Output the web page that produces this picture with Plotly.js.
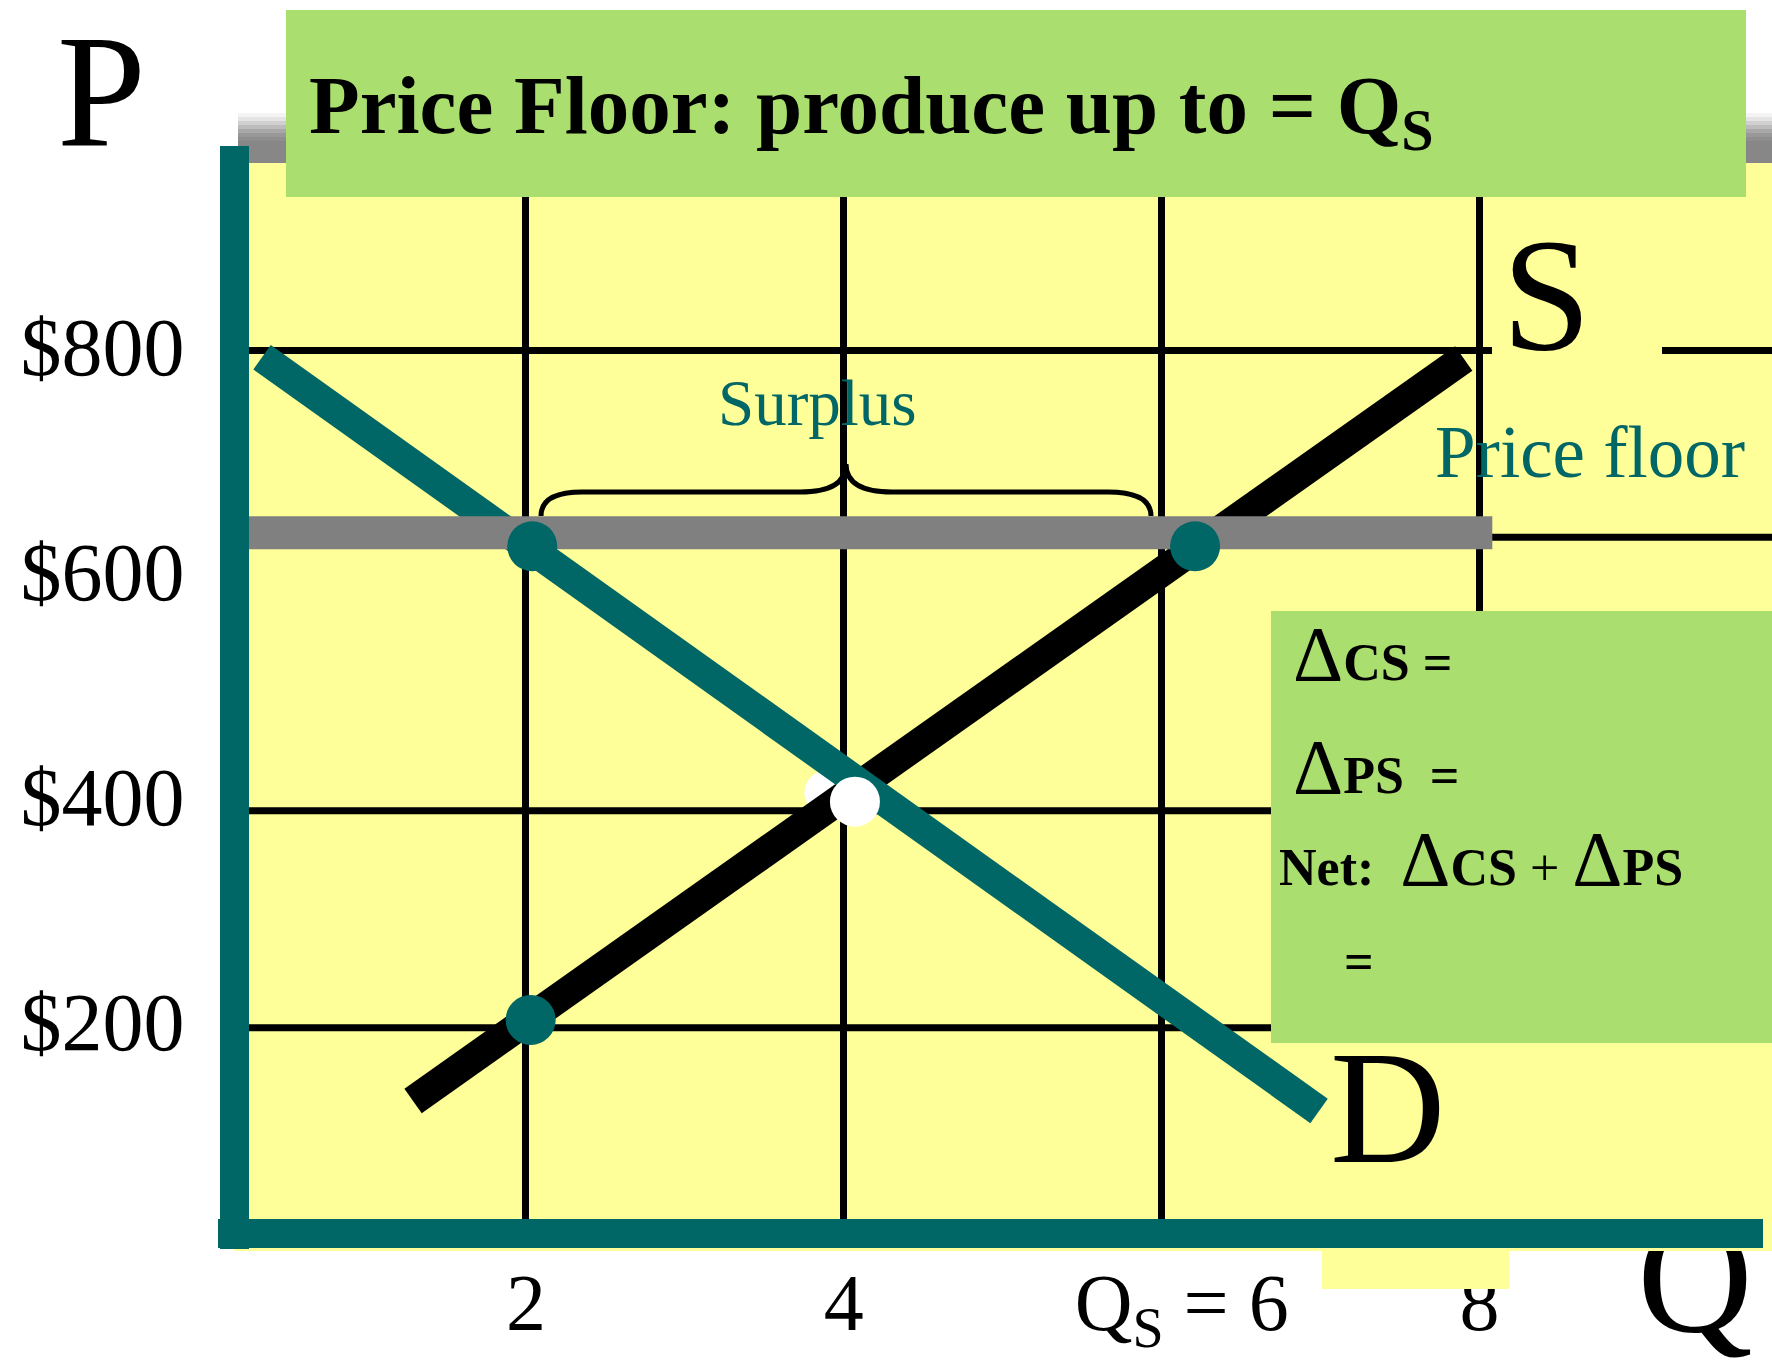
<!DOCTYPE html>
<html>
<head>
<meta charset="utf-8">
<script src="https://cdn.plot.ly/plotly-3.0.1.min.js"></script>
<style>
  html, body { margin: 0; padding: 0; background: #ffffff; }
  #chart { width: 1772px; height: 1362px; }
</style>
</head>
<body>
<div id="chart"></div>
<script>
// ---------------- data ----------------
const qTicks = [2, 4, 6, 8];
const qTickLabels = ['2', '4', '\u00a0\u00a0Q<sub>S</sub> = 6', '8'];
const pTicks = [200, 400, 600, 800];
const pTickLabels = ['$200', '$400', '$600', '$800'];
const gridPrices = [796, 630, 387, 194];      // horizontal guide lines as drawn

const demandQ = [0.34, 6.99];
const demandP = [790, 120];
const supplyQ = [1.29, 7.90];
const supplyP = [129, 789];
const floorQ = [0.23, 8.08];
const floorP = [634, 634];
const markedQ = [2.04, 6.21, 2.03];
const markedP = [622, 622, 201];
const equilibriumQ = [4.07];
const equilibriumP = [395];
const hiddenDotQ = [3.89];
const hiddenDotP = [403];
const qAxisLabelAt = [9.355];
const qAxisLabel = ['Q'];

// ---------------- styling ----------------
const SERIF = 'Liberation Serif, Times New Roman, serif';
const TEAL = '#006666';
const YELLOW = '#FFFF99';
const GREEN = '#AADE6E';
const GRAY = '#808080';

const W = 1772, H = 1362;
const L = 234, R = 1772, T = 162, B = 1249;       // plot area in pixels
const xp = px => (px - L) / (R - L);
const yp = py => (B - py) / (B - T);

function rectPx(x0, y0, x1, y1, color, layer) {
  return { type: 'rect', xref: 'paper', yref: 'paper',
           x0: xp(x0), x1: xp(x1), y0: yp(y1), y1: yp(y0),
           fillcolor: color, line: { width: 0 }, layer: layer || 'above' };
}
function hGrid(p, x0, x1) {
  return { type: 'line', xref: 'paper', yref: 'y', x0: xp(x0), x1: xp(x1), y0: p, y1: p,
           line: { color: '#000000', width: 7 }, layer: 'below' };
}
const pt = (x, y) => xp(x).toFixed(5) + ',' + yp(y).toFixed(5);

const shapes = [];
// yellow panel
shapes.push(rectPx(234, 162, 1772, 1251, YELLOW, 'below'));
// horizontal guide lines
shapes.push(hGrid(gridPrices[0], 234, 1492));
shapes.push(hGrid(gridPrices[0], 1662, 1772));
shapes.push(hGrid(gridPrices[1], 234, 1772));
shapes.push(hGrid(gridPrices[2], 234, 1271));
shapes.push(hGrid(gridPrices[3], 234, 1271));

// top shadow of the panel (gradient)
const shadow = [[113, '#f4f4f4'], [117, '#e4e4e4'], [121, '#d0d0d0'], [125, '#bcbcbc'],
                [129, '#a8a8a8'], [133, '#989898'], [137, '#8e8e8e'], [141, '#878787']];
for (let i = 0; i < shadow.length; i++) {
  const y0 = shadow[i][0];
  const y1 = i < shadow.length - 1 ? shadow[i + 1][0] : 163;
  shapes.push(rectPx(238, y0, 1772, y1, shadow[i][1]));
}
// yellow patches
shapes.push(rectPx(1462, 1043, 1498, 1219, YELLOW));
shapes.push(rectPx(1322, 1248, 1509, 1289, YELLOW));
shapes.push(rectPx(234, 1247, 1763, 1251, YELLOW));
// brace over the surplus
shapes.push({
  type: 'path', xref: 'paper', yref: 'paper', layer: 'above',
  path: 'M' + pt(541, 516) + ' Q' + pt(541, 492) + ' ' + pt(582, 492) +
        ' L' + pt(800, 492) + ' Q' + pt(846, 492) + ' ' + pt(846, 464) +
        ' Q' + pt(846, 492) + ' ' + pt(892, 492) +
        ' L' + pt(1108, 492) + ' Q' + pt(1151, 492) + ' ' + pt(1151, 516),
  line: { color: '#000000', width: 5 }, fillcolor: 'rgba(0,0,0,0)'
});
// title box and welfare box
shapes.push(rectPx(286, 10, 1746, 197, GREEN));
shapes.push(rectPx(1271, 611, 1772, 1043, GREEN));
// thick teal axes
shapes.push(rectPx(220, 146, 249, 1249, TEAL));
shapes.push(rectPx(218, 1219, 1763, 1248, TEAL));

function ann(text, xpx, topPx, size, extra) {
  return Object.assign({
    text: text, xref: 'paper', yref: 'paper', x: xp(xpx), y: yp(topPx),
    xanchor: 'left', yanchor: 'top', showarrow: false,
    borderpad: 0, borderwidth: 0,
    font: { family: SERIF, size: size, color: '#000000' }
  }, extra || {});
}
const D = '<span style="font-size:78px">\u0394</span>';
const annotations = [
  ann('P', 57, 1.5, 160),
  ann('<b>Price Floor: produce up to = Q<sub>S</sub></b>', 309, 59, 83),
  ann('S', 1502, 206, 160),
  ann('D', 1330, 1019, 160),
  ann('Surplus', 718, 367, 65, { font: { family: SERIF, size: 65, color: TEAL } }),
  ann('Price floor', 1435, 412, 73, { font: { family: SERIF, size: 73, color: TEAL } }),
  ann(D + '<b>CS =</b>', 1293, 610, 52),
  ann(D + '<b>PS</b>\u00a0 <b>=</b>', 1293, 723, 52),
  ann('<b>Net:</b>\u00a0 ' + D + '<b>CS</b> + ' + D + '<b>PS</b>', 1279, 815, 52),
  ann('<b>=</b>', 1344, 933, 52)
];

const traces = [
  { x: hiddenDotQ, y: hiddenDotP, mode: 'markers', type: 'scatter',
    marker: { size: 44, color: '#ffffff', line: { width: 0 } }, hoverinfo: 'skip' },
  { x: supplyQ, y: supplyP, mode: 'lines', type: 'scatter', name: 'S',
    line: { color: '#000000', width: 30 }, hoverinfo: 'skip' },
  { x: demandQ, y: demandP, mode: 'lines', type: 'scatter', name: 'D',
    line: { color: TEAL, width: 30 }, hoverinfo: 'skip' },
  { x: floorQ, y: floorP, mode: 'lines', type: 'scatter', name: 'Price floor',
    line: { color: GRAY, width: 33 }, hoverinfo: 'skip' },
  { x: markedQ, y: markedP, mode: 'markers', type: 'scatter',
    marker: { size: 50, color: TEAL, line: { width: 0 } }, hoverinfo: 'skip' },
  { x: equilibriumQ, y: equilibriumP, mode: 'markers', type: 'scatter',
    marker: { size: 50, color: '#ffffff', line: { width: 0 } }, hoverinfo: 'skip' },
  { x: [], y: [], mode: 'markers', type: 'scatter', xaxis: 'x2', yaxis: 'y', hoverinfo: 'skip' }
];

const xRange = [(L - 208) / 158.95, (R - 208) / 158.95];
const layout = {
  width: W, height: H,
  margin: { l: L, r: W - R, t: T, b: H - B, pad: 0 },
  paper_bgcolor: '#ffffff', plot_bgcolor: 'rgba(0,0,0,0)',
  showlegend: false,
  font: { family: SERIF, color: '#000000' },
  xaxis: {
    range: xRange,
    tickmode: 'array', tickvals: qTicks, ticktext: qTickLabels,
    ticks: '', showgrid: true, gridcolor: '#000000', gridwidth: 7,
    zeroline: false, showline: false,
    tickfont: { family: SERIF, size: 80, color: '#000000' }, fixedrange: true
  },
  xaxis2: {
    overlaying: 'x', anchor: 'free', position: yp(1170), side: 'bottom',
    range: xRange,
    tickmode: 'array', tickvals: qAxisLabelAt, ticktext: qAxisLabel,
    ticks: '', showgrid: false, zeroline: false, showline: false,
    tickfont: { family: SERIF, size: 160, color: '#000000' }, fixedrange: true
  },
  yaxis: {
    range: [(1246 - B) / 1.125, (1246 - T) / 1.125],
    tickmode: 'array', tickvals: pTicks, ticktext: pTickLabels,
    ticks: 'outside', ticklen: 32, tickcolor: 'rgba(0,0,0,0)',
    showgrid: false, zeroline: false, showline: false,
    tickfont: { family: SERIF, size: 82, color: '#000000' }, fixedrange: true
  },
  shapes: shapes,
  annotations: annotations
};

Plotly.newPlot('chart', traces, layout, { staticPlot: true, displayModeBar: false });
</script>
</body>
</html>
